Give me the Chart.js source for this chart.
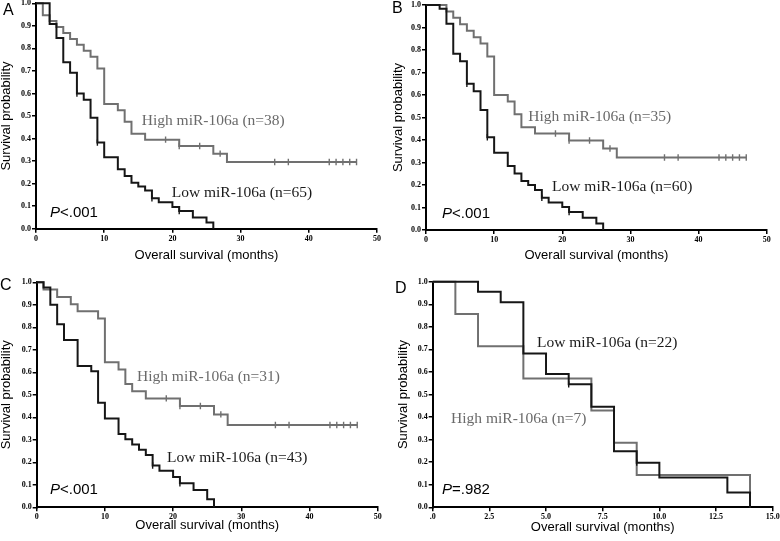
<!DOCTYPE html>
<html><head><meta charset="utf-8">
<script src="https://cdn.jsdelivr.net/npm/chart.js@4.4.1/dist/chart.umd.min.js"></script>
<style>
html,body{margin:0;padding:0;background:#fff;overflow:hidden;width:780px;height:541px;position:relative;}
canvas{position:absolute;}
.lt{position:absolute;font:16px 'Liberation Sans',Arial,sans-serif;color:#000;line-height:16px;}
</style></head><body>
<canvas id="cA"></canvas>
<canvas id="cB"></canvas>
<canvas id="cC"></canvas>
<canvas id="cD"></canvas>
<div class="lt" style="left:3px;top:1.5px">A</div>
<div class="lt" style="left:392px;top:-0.5px">B</div>
<div class="lt" style="left:0px;top:276.5px">C</div>
<div class="lt" style="left:395px;top:279.5px">D</div>
<script>
// ---------- DATA (Kaplan-Meier steps) ----------
// Panel A
const aHighT = [0,1,2,3,4,5,6,7,8,9,10,12,13,14,16,21,26,28,47];
const aHighS = [1,0.947,0.921,0.895,0.868,0.842,0.816,0.789,0.763,0.711,0.553,0.526,0.474,0.421,0.395,0.367,0.333,0.296,0.296];
const aHighCens = [19,21,24,27,35,37,43,44,45,46,47];
const aLowT = [0,2,3,4,5,6,7,8,9,10,12,13,14,15,16,17,18,20,21,23,25,26];
const aLowS = [1,0.908,0.846,0.738,0.692,0.600,0.572,0.492,0.382,0.317,0.264,0.234,0.204,0.187,0.169,0.135,0.117,0.096,0.078,0.050,0.027,0];
const aLowCens = [6,9,17,21];
// Panel B
const bHighT = [0,3,4,5,6,7,8,9,10,12,13,14,16,21,26,28,47];
const bHighS = [1,0.971,0.943,0.914,0.886,0.857,0.829,0.771,0.600,0.571,0.514,0.457,0.429,0.398,0.362,0.322,0.322];
const bHighCens = [19,21,24,27,35,37,43,44,45,46,47];
const bLowT = [0,2,3,4,5,6,7,8,9,10,12,13,14,15,16,17,18,20,21,23,25,26];
const bLowS = [1,0.983,0.917,0.783,0.750,0.650,0.617,0.533,0.412,0.343,0.284,0.251,0.218,0.200,0.178,0.143,0.122,0.102,0.080,0.054,0.029,0];
const bLowCens = [6,9,17,21];
// Panel C
const cHighT = [0,1,3,5,6,9,10,12,13,14,16,21,26,28,47];
const cHighS = [1,0.968,0.935,0.903,0.871,0.839,0.645,0.613,0.548,0.516,0.484,0.450,0.413,0.366,0.366];
const cHighCens = [19,21,24,27,35,37,43,44,45,46,47];
const cLowT = [0,1,2,3,4,6,8,9,10,12,13,14,15,16,17,18,20,21,23,25,26];
const cLowS = [1,0.977,0.900,0.814,0.744,0.628,0.605,0.465,0.395,0.326,0.302,0.279,0.256,0.233,0.186,0.163,0.135,0.107,0.077,0.036,0];
const cLowCens = [17,21];
// Panel D
const dLowT = [0,2,3,4,5,6,7,8,9,10,13,14];
const dLowS = [1,0.955,0.909,0.682,0.591,0.545,0.446,0.248,0.198,0.132,0.066,0];
const dLowCens = [6,9];
const dHighT = [0,1,2,4,7,8,9,14];
const dHighS = [1,0.857,0.714,0.571,0.429,0.286,0.143,0];
const dHighCens = [];

// Tick values
const yTicks = [0,0.1,0.2,0.3,0.4,0.5,0.6,0.7,0.8,0.9,1.0];
const xTicksABC = [0,10,20,30,40,50];
const xTicksD = [0,2.5,5,7.5,10,12.5,15];

// Text
const yTitle = 'Survival probability';
const xTitle = 'Overall survival (months)';

// ---------- helpers ----------
const GRAY = '#707070', BLACK = '#161616';
const pts = (T, S) => T.map((t, i) => ({x: t, y: S[i]}));
const survAt = (T, S, t) => { let v = S[0]; for (let i = 0; i < T.length; i++) { if (T[i] <= t) v = S[i]; } return v; };
const censPts = (C, T, S) => C.map(t => ({x: t, y: survAt(T, S, t)}));

const kmText = {
  id: 'kmText',
  afterDatasetsDraw(chart, args, opts) {
    const {ctx} = chart; const xs = chart.scales.x, ys = chart.scales.y;
    ctx.save();
    ctx.textBaseline = 'middle'; ctx.textAlign = 'left';
    (opts.items || []).forEach(it => {
      let px = xs.getPixelForValue(it.x); const py = ys.getPixelForValue(it.y);
      it.parts.forEach(p => { ctx.font = p.font; ctx.fillStyle = p.color; ctx.fillText(p.t, px, py); px += ctx.measureText(p.t).width; });
    });
    ctx.restore();
  }
};

const serif = "15.5px 'Liberation Serif','Times New Roman',serif";
const sansP = "italic 15px 'Liberation Sans',Arial,sans-serif";
const sans = "15px 'Liberation Sans',Arial,sans-serif";

function curve(T, S, color) {
  return {type: 'scatter', data: pts(T, S), showLine: true, stepped: 'before', borderColor: color, borderWidth: 2,
          pointRadius: 0, fill: false, clip: 6};
}
function marks(C, T, S, color) {
  return {type: 'scatter', data: censPts(C, T, S), showLine: false, pointStyle: 'line', pointRotation: 90,
          pointRadius: 3.2, pointBorderColor: color, pointBorderWidth: 1.4, clip: 6};
}

function panel(id, box, area, xTicks, xFmt, datasets, items) {
  const cv = document.getElementById(id);
  cv.style.left = box.left + 'px'; cv.style.top = box.top + 'px';
  cv.width = box.width; cv.height = box.height;
  const yw = area.L - box.left, pt = area.T - box.top, pr = box.left + box.width - area.R, xh = box.top + box.height - area.B;
  const tickFont = {family: "'Liberation Serif','Times New Roman',serif", size: 8, weight: 'bold'};
  const titleFont = {family: "'Liberation Sans',Arial,sans-serif", size: 13};
  new Chart(cv, {
    type: 'scatter',
    data: {datasets},
    plugins: [kmText],
    options: {
      responsive: false, animation: false, devicePixelRatio: 1,
      layout: {padding: {left: 0, top: pt, right: pr, bottom: 0}},
      plugins: {legend: {display: false}, tooltip: {enabled: false}, kmText: {items}},
      scales: {
        x: {type: 'linear', min: xTicks[0], max: xTicks[xTicks.length - 1],
            afterBuildTicks: s => { s.ticks = xTicks.map(v => ({value: v})); },
            afterFit: s => { s.height = xh; },
            ticks: {font: tickFont, color: '#000', padding: 1, autoSkip: false, maxRotation: 0, callback: xFmt},
            grid: {display: true, drawOnChartArea: false, drawTicks: true, tickLength: 4, color: '#000', lineWidth: 1.5},
            border: {display: true, color: '#000', width: 2},
            title: {display: true, text: xTitle, font: titleFont, color: '#000', padding: 0}},
        y: {type: 'linear', min: 0, max: 1,
            afterBuildTicks: s => { s.ticks = yTicks.map(v => ({value: v})); },
            afterFit: s => { s.width = yw; },
            ticks: {font: tickFont, color: '#000', padding: 1, autoSkip: false, callback: v => Number(v).toFixed(1)},
            grid: {display: true, drawOnChartArea: false, drawTicks: true, tickLength: 4, color: '#000', lineWidth: 1.5},
            border: {display: true, color: '#000', width: 2},
            title: {display: true, text: yTitle, font: titleFont, color: '#000', padding: 0}}
      }
    }
  });
}

const fmtInt = v => String(v);
const fmtD = v => (v === 0 ? '.0' : Number(v).toFixed(1));
const hi = t => ({t, font: serif, color: '#6a6a6a'});
const lo = t => ({t, font: serif, color: '#1a1a1a'});
const pv = t => [{t: 'P', font: sansP, color: '#000'}, {t, font: sans, color: '#000'}];

panel('cA', {left: -1, top: -5, width: 393, height: 268}, {L: 36, T: 3.3, R: 377, B: 228.7}, xTicksABC, fmtInt, [
  curve(aLowT, aLowS, BLACK), marks(aLowCens, aLowT, aLowS, BLACK),
  curve(aHighT, aHighS, GRAY), marks(aHighCens, aHighT, aHighS, GRAY)
], [
  {x: 15.5, y: 0.479, parts: [hi('High miR-106a (n=38)')]},
  {x: 19.9, y: 0.159, parts: [lo('Low miR-106a (n=65)')]},
  {x: 2.05, y: 0.071, parts: pv('<.001')}
]);

panel('cB', {left: 391, top: -3, width: 391, height: 266}, {L: 426, T: 5, R: 766.7, B: 230}, xTicksABC, fmtInt, [
  curve(bLowT, bLowS, BLACK), marks(bLowCens, bLowT, bLowS, BLACK),
  curve(bHighT, bHighS, GRAY), marks(bHighCens, bHighT, bHighS, GRAY)
], [
  {x: 15.0, y: 0.502, parts: [hi('High miR-106a (n=35)')]},
  {x: 18.5, y: 0.191, parts: [lo('Low miR-106a (n=60)')]},
  {x: 2.35, y: 0.071, parts: pv('<.001')}
]);

panel('cC', {left: -1, top: 274, width: 394, height: 259}, {L: 36.7, T: 282.3, R: 377.7, B: 507.3}, xTicksABC, fmtInt, [
  curve(cLowT, cLowS, BLACK), marks(cLowCens, cLowT, cLowS, BLACK),
  curve(cHighT, cHighS, GRAY), marks(cHighCens, cHighT, cHighS, GRAY)
], [
  {x: 14.7, y: 0.579, parts: [hi('High miR-106a (n=31)')]},
  {x: 19.1, y: 0.219, parts: [lo('Low miR-106a (n=43)')]},
  {x: 1.95, y: 0.077, parts: pv('<.001')}
]);

panel('cD', {left: 396, top: 273, width: 392, height: 262}, {L: 432.7, T: 281.7, R: 772.7, B: 507.3}, xTicksD, fmtD, [
  curve(dLowT, dLowS, BLACK), marks(dLowCens, dLowT, dLowS, BLACK),
  curve(dHighT, dHighS, GRAY), marks(dHighCens, dHighT, dHighS, GRAY)
], [
  {x: 4.6, y: 0.728, parts: [lo('Low miR-106a (n=22)')]},
  {x: 0.81, y: 0.391, parts: [hi('High miR-106a (n=7)')]},
  {x: 0.41, y: 0.077, parts: pv('=.982')}
]);
</script>
</body></html>
